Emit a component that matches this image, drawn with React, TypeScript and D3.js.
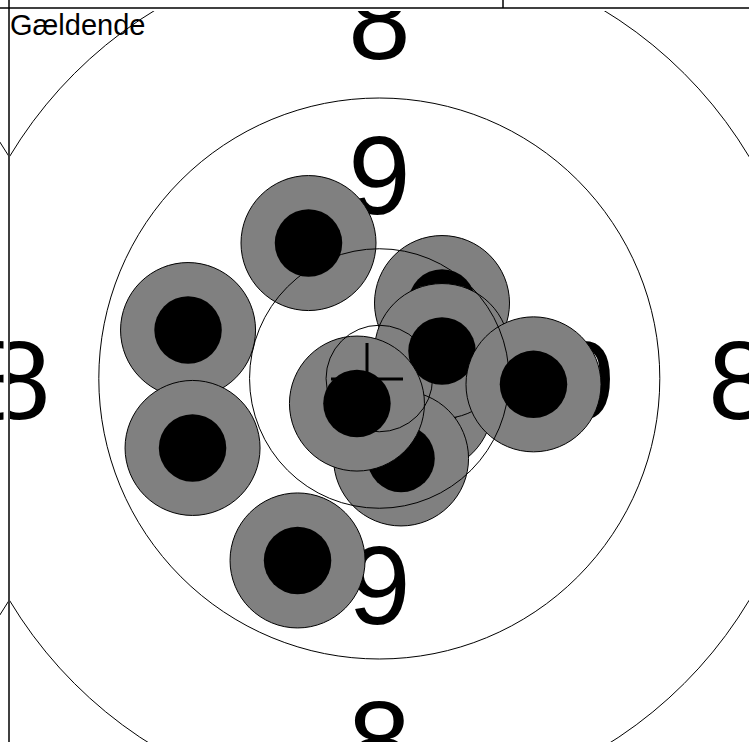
import React, { useEffect, useRef } from "react";
import * as d3 from "d3";

// target rings, radius in mm (innermost is the inner ten)
const ringRadius = [3.55, 8.65, 18.7, 28.75];
// zone numbers and the radius (mm) they are written at
const zoneLabels = ["9", "8"];
const zoneLabelRadius = [13.65, 24.0];

// shots in mm from the centre (y up), in the order they are drawn
const shotX = [-4.72, -12.75, -12.45, -5.45, 4.18, 3.05, 4.18, 10.28, 1.45, -1.49];
const shotY = [9.03, 3.23, -4.63, -12.13, 5.03, -1.77, 1.83, -0.39, -5.33, -1.67];
const holeRadius = 2.25;
const gaugeRadius = 4.5;

// cross mark
const markX = -0.82;
const markY = -0.03;
const markArm = 2.4;

const title = "Gældende";

const App = () => {
  const ref = useRef<SVGSVGElement>(null);

  useEffect(() => {
    const svg = d3.select(ref.current);
    svg.selectAll("*").remove();

    const width = 749;
    const height = 742;
    const cx = 379.3;
    const cy = 378.5;
    const pxPerMm = 15;
    const top = 11;
    const font = "'Liberation Sans', Arial, sans-serif";

    const r = d3.scaleLinear().domain([0, 1]).range([0, pxPerMm]);

    const defs = svg.append("defs");
    const clip = (id, x0, w) =>
      defs
        .append("clipPath")
        .attr("id", id)
        .append("rect")
        .attr("x", x0)
        .attr("y", top)
        .attr("width", w)
        .attr("height", height - top);
    clip("panel", 10, width - 10);
    clip("left-rings", 0, 8.2);
    clip("left-text", 0, 3.5);

    const scales = (centerX) => ({
      x: d3.scaleLinear().domain([-1, 1]).range([centerX - pxPerMm, centerX + pxPerMm]),
      y: d3.scaleLinear().domain([-1, 1]).range([cy + pxPerMm, cy - pxPerMm]),
    });

    // zone numbers on the four sides
    const drawLabels = (g, { x, y }) => {
      const labelPos = [];
      zoneLabels.forEach((lab, i) => {
        const d = zoneLabelRadius[i];
        [
          [0, d],
          [0, -d],
          [-d, 0],
          [d, 0],
        ].forEach(([dx, dy]) => labelPos.push({ lab, dx, dy }));
      });
      g.append("g")
        .selectAll("text")
        .data(labelPos)
        .enter()
        .append("text")
        .attr("x", (d) => x(d.dx))
        .attr("y", (d) => y(d.dy))
        .attr("dy", "0.36em")
        .attr("text-anchor", "middle")
        .attr("font-family", font)
        .attr("font-size", 112)
        .attr("fill", "#000")
        .text((d) => d.lab);
    };

    const drawRings = (g, { x, y }) => {
      g.append("g")
        .selectAll("circle")
        .data(ringRadius)
        .enter()
        .append("circle")
        .attr("cx", x(0))
        .attr("cy", y(0))
        .attr("r", (d) => r(d))
        .attr("fill", "none")
        .attr("stroke", "#000")
        .attr("stroke-width", 1);
    };

    // neighbour target on the left, only its edge shows
    const ls = scales(cx - 740);
    drawLabels(svg.append("g").attr("clip-path", "url(#left-text)"), ls);
    drawRings(svg.append("g").attr("clip-path", "url(#left-rings)"), ls);

    const panel = svg.append("g").attr("clip-path", "url(#panel)");
    const sc = scales(cx);
    const { x, y } = sc;
    drawLabels(panel, sc);

    // shots: grey gauge with the hole on top
    const shots = shotX.map((sx, i) => ({ sx, sy: shotY[i] }));
    const shotG = panel
      .append("g")
      .selectAll("g")
      .data(shots)
      .enter()
      .append("g");
    shotG
      .append("circle")
      .attr("cx", (d) => x(d.sx))
      .attr("cy", (d) => y(d.sy))
      .attr("r", r(gaugeRadius))
      .attr("fill", "#808080")
      .attr("stroke", "#000")
      .attr("stroke-width", 1);
    shotG
      .append("circle")
      .attr("cx", (d) => x(d.sx))
      .attr("cy", (d) => y(d.sy))
      .attr("r", r(holeRadius))
      .attr("fill", "#000");

    // rings over the shots
    drawRings(panel, sc);

    // cross mark
    panel
      .append("path")
      .attr(
        "d",
        `M${x(markX - markArm)},${y(markY)}H${x(markX + markArm)}M${x(markX)},${y(markY + markArm)}V${y(markY - markArm)}`
      )
      .attr("stroke", "#000")
      .attr("stroke-width", 3)
      .attr("fill", "none");

    panel
      .append("text")
      .attr("x", 10)
      .attr("y", 35)
      .attr("font-family", font)
      .attr("font-size", 29)
      .attr("fill", "#000")
      .text(title);

    // frame lines
    const frame = svg.append("g").attr("stroke", "#000").attr("stroke-width", 1.5);
    frame.append("line").attr("x1", 9).attr("x2", 9).attr("y1", 0).attr("y2", height);
    frame.append("line").attr("x1", 0).attr("x2", width).attr("y1", 8).attr("y2", 8);
    frame.append("line").attr("x1", 503).attr("x2", 503).attr("y1", 0).attr("y2", 8);
  }, []);

  return (
    <svg
      ref={ref}
      width={749}
      height={742}
      style={{ position: "absolute", left: 0, top: 0, background: "#fff" }}
    />
  );
};

export default App;
